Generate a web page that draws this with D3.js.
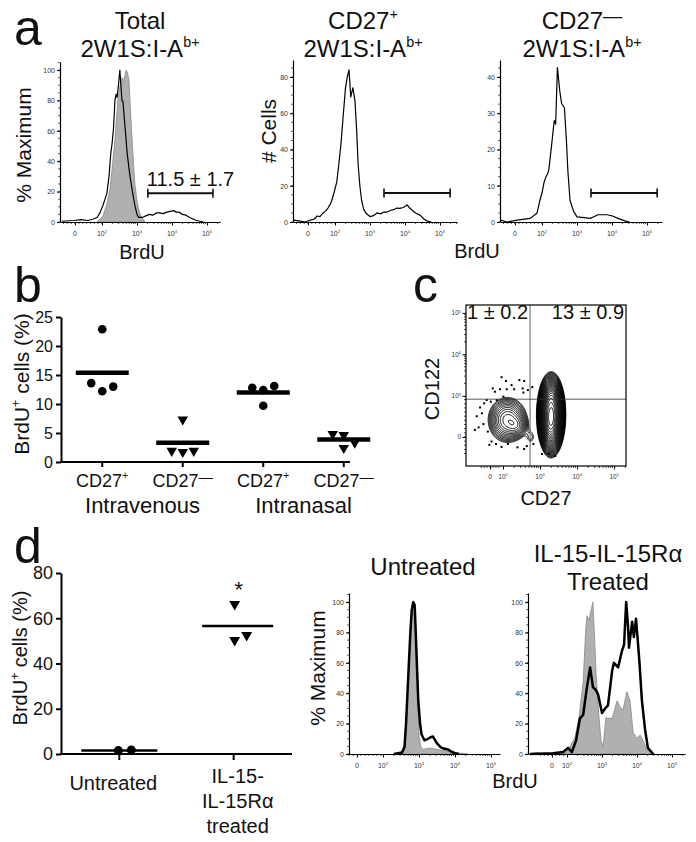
<!DOCTYPE html>
<html><head><meta charset="utf-8">
<script src="https://cdn.jsdelivr.net/npm/d3@7"></script>
<style>
body{margin:0;background:#fff}
svg{display:block}
text{font-family:"Liberation Sans",Arial,Helvetica,sans-serif;fill:#111}
</style>
</head><body>
<svg id="fig" width="696" height="842"></svg>
<script>
// ================= DATA =================
const panelLetters = ["a", "b", "c", "d"];

// ---- panel a ----
const aTitleTop = [["Total", ""], ["CD27", "+"], ["CD27", "—"]];
const aTitleBottom = ["2W1S:I-A", "b+"];
const aYTitles = ["% Maximum", "# Cells", ""];
const aYTicks = [[0, 20, 40, 60, 80, 100], [0, 20, 40, 60, 80], [0, 10, 20, 30, 40]];
const aYMax = [105.3, 89.4, 44.7];
const histTickLabels = [["0", ""], ["10", "2"], ["10", "3"], ["10", "4"], ["10", "5"]];
const aGateText = "11.5 ± 1.7";
const aGateFrom = [3.31, 3.4, 3.4];
const aGateTo = [5.17, 5.29, 5.29];
const aGateLevel = [19, 16, 8];
// display coordinate: 2 = 10^2, 3 = 10^3 ... (biexponential axis), value = % max or # cells
const aTotalControl = [[1.86,0],[2.03,4],[2.14,12],[2.23,22],[2.3,38],[2.37,54],[2.42,70],[2.46,82],[2.52,90],[2.57,95],[2.62,93],[2.69,100],[2.73,98],[2.77,93],[2.81,75],[2.86,54],[2.9,38],[2.94,25],[3.0,14],[3.05,8],[3.11,4],[3.23,0]];
const aTotalBrdU = [[0.85,0.5],[1.2,1],[1.4,1.5],[1.6,1],[1.75,2],[1.86,3],[1.94,6],[2.03,11],[2.1,16],[2.14,19],[2.2,30],[2.25,45],[2.29,52],[2.33,62],[2.37,80],[2.4,84],[2.43,82],[2.47,90],[2.51,100],[2.54,90],[2.57,80],[2.6,79],[2.65,65],[2.72,45],[2.8,30],[2.87,20],[2.93,12],[3.0,5],[3.05,3],[3.15,3],[3.25,4],[3.35,5],[3.45,4.5],[3.55,6],[3.65,6],[3.75,5.5],[3.85,6.5],[3.95,7],[4.05,7.5],[4.12,6.5],[4.2,6.5],[4.3,5],[4.4,4.5],[4.5,3],[4.6,2],[4.7,1],[4.8,0.5],[4.9,0]];
const aCD27posBrdU = [[0.82,1],[1.0,0.5],[1.15,0],[1.29,1],[1.4,1.5],[1.49,3.3],[1.57,3],[1.66,5],[1.73,6],[1.8,7.7],[1.87,10],[1.91,12],[1.97,16],[2.05,22],[2.11,32],[2.17,43],[2.24,60],[2.3,74],[2.35,80],[2.4,84],[2.45,69],[2.51,74],[2.57,67],[2.62,50],[2.66,32],[2.71,20],[2.76,12],[2.82,7],[2.9,4.5],[3.0,3],[3.1,3.5],[3.2,5],[3.3,4.5],[3.4,5.5],[3.49,5.5],[3.6,6.5],[3.7,7],[3.77,7.7],[3.85,7.5],[3.95,8],[4.06,9.4],[4.12,8],[4.2,6.6],[4.3,5],[4.43,3.8],[4.55,1.5],[4.63,0.5],[4.75,0]];
const aCD27negBrdU = [[0.82,0.5],[1.0,0],[1.29,0.5],[1.5,0.8],[1.66,1],[1.8,2],[1.86,2.5],[1.94,6],[2.0,8],[2.06,11],[2.11,12.4],[2.17,13.5],[2.2,14.8],[2.28,21.7],[2.35,28],[2.39,27],[2.44,42.6],[2.51,36],[2.56,32.7],[2.64,31.6],[2.7,22],[2.74,14],[2.8,6],[2.9,3],[3.0,1.4],[3.2,1.2],[3.37,1],[3.5,1.5],[3.6,2],[3.75,2],[3.86,2],[3.95,1.8],[4.03,1.6],[4.17,1],[4.37,0.3],[4.5,0]];

// ---- panel b ----
const bCategories = [["CD27", "+"], ["CD27", "—"], ["CD27", "+"], ["CD27", "—"]];
const bRoutes = ["Intravenous", "Intranasal"];
const bValues = [[22.9, 13.6, 12.2, 13.0], [7.5, 2.1, 1.9, 2.1], [12.8, 12.4, 13.1, 9.7], [5.0, 4.8, 2.6, 3.5]];
const bMeans = [15.4, 3.3, 12.0, 3.9];
const bYTicks = [0, 5, 10, 15, 20, 25];

// ---- panel c ----
const cQuadText = ["1 ± 0.2", "13 ± 0.9"];
const cXTickPos = [1.65, 2, 3, 4, 5];
const cXTickLabels = [["0", ""], ["10", "2"], ["10", "3"], ["10", "4"], ["10", "5"]];
const cYTickPos = [2.01, 3, 4, 5];
const cYTickLabels = [["0", ""], ["10", "3"], ["10", "4"], ["10", "5"]];
const cGate = [2.73, 2.92];
// density clusters: [cx, cy, sx, sy, weight] in display coordinates
const cClusters = [[3.30, 2.55, 0.13, 0.34, 1.0], [3.28, 2.2, 0.09, 0.22, 0.2], [3.3, 3.0, 0.08, 0.15, 0.15], [2.12, 2.42, 0.26, 0.27, 0.075], [2.38, 2.28, 0.15, 0.14, 0.03], [2.75, 2.0, 0.09, 0.13, 0.012]];
const cOutliers = [[1.96,3.45],[2.08,3.36],[1.72,3.18],[1.78,3.10],[1.92,3.16],[2.10,3.16],[2.23,3.26],[2.44,3.38],[2.57,3.36],[2.53,3.18],[2.55,3.08],[2.79,3.21],[1.56,2.90],[1.67,2.86],[1.38,2.72],[1.29,2.51],[1.43,2.58],[1.34,2.24],[1.47,2.32],[1.59,2.14],[1.69,1.90],[1.81,1.84],[1.63,1.82],[1.96,1.77],[2.13,1.84],[2.39,1.76],[2.57,1.72],[2.64,1.79],[2.82,1.84],[3.05,1.60],[3.23,1.60],[3.41,1.55],[1.83,2.90],[2.01,2.98],[2.30,3.16],[2.67,3.14],[1.49,2.82],[1.24,2.18]];

// ---- panel d ----
const dCategories = [["Untreated"], ["IL-15-", "IL-15Rα", "treated"]];
const dUntreated = [1.5, 1.8];
const dTreated = [66.7, 50.8, 53.0];
const dMeans = [1.6, 56.6];
const dYTicks = [0, 20, 40, 60, 80];
const dHistTitles = [["Untreated"], ["IL-15-IL-15Rα", "Treated"]];
const dHistYTicks = [0, 20, 40, 60, 80, 100];
const dUntreatedControl = [[2.5,0],[2.6,3],[2.64,18],[2.68,38],[2.72,58],[2.76,80],[2.8,95],[2.84,100],[2.88,97],[2.91,78],[2.94,55],[2.97,30],[3.0,12],[3.05,5],[3.11,3],[3.2,3.5],[3.3,4],[3.4,3.5],[3.5,3],[3.64,2.5],[3.8,2],[4.0,1],[4.2,0.5],[4.35,0]];
const dUntreatedBrdU = [[2.3,0],[2.42,0.5],[2.53,1],[2.6,5],[2.64,20],[2.68,40],[2.72,60],[2.76,80],[2.8,95],[2.84,100],[2.88,98],[2.91,80],[2.94,60],[2.98,35],[3.03,20],[3.07,13],[3.15,9],[3.25,10],[3.32,11],[3.39,11.5],[3.45,9],[3.5,7],[3.58,5],[3.64,4],[3.72,3.5],[3.81,3],[3.9,1.5],[4.0,0.5],[4.1,0]];
const dTreatedControl = [[0.94,0],[1.14,1],[1.3,0],[2.0,1.3],[2.23,11],[2.34,24],[2.46,47],[2.53,80],[2.57,91],[2.63,88],[2.69,95],[2.74,100],[2.8,70],[2.83,53],[2.89,31],[2.97,9],[3.03,5],[3.11,24],[3.17,23.5],[3.29,23.5],[3.43,35],[3.51,31],[3.6,29],[3.71,41],[3.8,35],[3.89,14],[4.0,10.5],[4.09,12.5],[4.17,9],[4.29,2.6],[4.51,0]];
const dTreatedBrdU = [[0.94,0],[1.6,0.5],[1.89,1.3],[2.03,4],[2.14,1.3],[2.26,9],[2.37,23.5],[2.46,25.7],[2.57,44],[2.66,57],[2.74,44],[2.83,42],[2.89,39],[3.0,27],[3.09,30],[3.17,32],[3.29,55],[3.34,60],[3.46,57],[3.57,68],[3.63,72],[3.69,100],[3.74,85],[3.77,70],[3.86,87],[3.91,77],[3.97,89],[4.02,75],[4.07,60],[4.14,35],[4.23,16],[4.31,4],[4.46,0]];

// ================= DRAWING =================
const svg = d3.select("#fig");
const FONT = "'Liberation Sans', Arial, Helvetica, sans-serif";

function rich(t, parts, fs) {
  let shift = 0;
  parts.forEach(([s, k]) => {
    if (!s) return;
    const ts = t.append("tspan").text(s);
    let target = 0, size = null;
    if (k === "sup") { target = -0.42 * fs; size = 0.6 * fs; }
    else if (k === "dash") { target = -0.3 * fs; size = 0.8 * fs; }
    const dy = target - shift; shift = target;
    if (dy) ts.attr("dy", dy);
    if (size) ts.attr("font-size", size);
  });
}
function txt(x, y, fs, anchor) {
  return svg.append("text").attr("x", x).attr("y", y).attr("font-size", fs)
    .attr("text-anchor", anchor || "middle");
}
function vtxt(x, y, fs) {
  return svg.append("text").attr("transform", `translate(${x},${y}) rotate(-90)`)
    .attr("font-size", fs).attr("text-anchor", "middle");
}
function markParts(base, mark) {
  return [[base, "n"], [mark, mark === "—" ? "dash" : "sup"]];
}

// panel letters
const letterPos = [[14, 45], [14, 302], [413, 302], [14, 563]];
panelLetters.forEach((l, i) => txt(letterPos[i][0], letterPos[i][1], 50, "start").text(l));

// ---------- histogram helper ----------
function histPanel(o) {
  const g = svg.append("g");
  const x = d3.scaleLinear().domain(o.xDomain).range([o.left, o.right]);
  const y = d3.scaleLinear().domain([0, o.yMax]).range([o.bottom, o.top]);
  (o.fills || []).forEach(s => g.append("path").datum(s)
    .attr("d", d3.area().x(d => x(d[0])).y0(y(0)).y1(d => y(d[1])))
    .attr("fill", "#b0b0b0").attr("stroke", "#888").attr("stroke-width", 0.8));
  (o.lines || []).forEach(s => g.append("path").datum(s)
    .attr("d", d3.line().x(d => x(d[0])).y(d => y(d[1])))
    .attr("fill", "none").attr("stroke", "#000").attr("stroke-width", o.lw)
    .attr("stroke-linejoin", "round"));
  const ya = g.append("g").attr("transform", `translate(${o.left},0)`)
    .call(d3.axisLeft(y).tickValues(o.yTicks).tickSize(3).tickSizeOuter(0).tickPadding(2));
  ya.attr("font-size", 7).attr("font-family", FONT);
  ya.selectAll("text").style("fill", "#333");
  ya.select(".domain").attr("stroke-width", 1.2);
  const step = o.yTicks[1] - o.yTicks[0];
  const yMinor = d3.range(0, o.yMax, step / 4);
  g.selectAll(null).data(yMinor).join("line")
    .attr("x1", o.left - 1.8).attr("x2", o.left).attr("y1", d => y(d)).attr("y2", d => y(d))
    .attr("stroke", "#000").attr("stroke-width", 0.7);
  const xa = g.append("g").attr("transform", `translate(0,${o.bottom})`)
    .call(d3.axisBottom(x).tickValues(o.xTicks).tickSize(3.5).tickSizeOuter(0).tickFormat(""));
  xa.select(".domain").attr("stroke-width", 1.2);
  const xMinor = [];
  for (let k = -3; o.zero + k * 0.11 < 2; k++) { const v = o.zero + k * 0.11; if (v > o.xDomain[0]) xMinor.push(v); }
  for (let dec = 2; dec <= 5; dec++) for (let m = 2; m <= 9; m++) {
    const v = dec + Math.log10(m); if (v < o.xDomain[1]) xMinor.push(v);
  }
  g.selectAll(null).data(xMinor).join("line")
    .attr("x1", d => x(d)).attr("x2", d => x(d)).attr("y1", o.bottom).attr("y2", o.bottom + 2)
    .attr("stroke", "#000").attr("stroke-width", 0.7);
  o.xTicks.forEach((p, i) => {
    const t = g.append("text").attr("x", x(p)).attr("y", o.bottom + 14).attr("font-size", 7)
      .attr("text-anchor", "middle").style("fill", "#333");
    rich(t, [[histTickLabels[i][0], "n"], [histTickLabels[i][1], "sup"]], 7);
  });
  return { x, y, g };
}

// ---------- panel a ----------
const aLeft = [60, 293, 500], aRight = [220, 457, 662];
const aSeriesLines = [[aTotalBrdU], [aCD27posBrdU], [aCD27negBrdU]];
const aSeriesFills = [[aTotalControl], [], []];
const aTitleX = [140, 363, 582];
aLeft.forEach((L, i) => {
  const xDom = [0.8, 0.8 + (aRight[i] - L) / 35];
  const h = histPanel({
    left: L, right: aRight[i], bottom: 222, top: i === 0 ? 62 : 60, xDomain: xDom,
    yMax: aYMax[i], yTicks: aYTicks[i], xTicks: [1.229, 2, 3, 4, 5], zero: 1.229,
    fills: aSeriesFills[i], lines: aSeriesLines[i], lw: 1.2
  });
  const gy = h.y(aGateLevel[i]), gx1 = h.x(aGateFrom[i]), gx2 = h.x(aGateTo[i]);
  h.g.append("line").attr("x1", gx1).attr("x2", gx2).attr("y1", gy).attr("y2", gy).attr("stroke", "#111").attr("stroke-width", 2);
  [gx1, gx2].forEach(gx => h.g.append("line").attr("x1", gx).attr("x2", gx).attr("y1", gy - 4.5).attr("y2", gy + 4.5).attr("stroke", "#111").attr("stroke-width", 1.6));
  rich(txt(aTitleX[i], 29, 24), markParts(aTitleTop[i][0], aTitleTop[i][1]), 24);
  rich(txt(aTitleX[i], 57, 24), [[aTitleBottom[0], "n"], [aTitleBottom[1], "sup"]], 24);
  if (i === 0) txt(gx1 - 1, 186, 20, "start").text(aGateText);
});
vtxt(31, 145, 21).text(aYTitles[0]);
vtxt(276, 131, 21).text(aYTitles[1]);
txt(142, 259, 20).text("BrdU");
txt(477, 258, 20).text("BrdU");

// ---------- panel b ----------
{
  const x = d3.scaleBand().domain(d3.range(bCategories.length)).range([62, 384]);
  const y = d3.scaleLinear().domain([0, 25]).range([462, 317]);
  const ya = svg.append("g").attr("transform", "translate(61,0)")
    .call(d3.axisLeft(y).tickValues(bYTicks).tickSize(5).tickSizeOuter(0).tickPadding(3));
  ya.attr("font-size", 16).attr("font-family", FONT);
  ya.selectAll("line,path").attr("stroke-width", 2);
  svg.append("line").attr("x1", 60).attr("x2", 350).attr("y1", 462).attr("y2", 462).attr("stroke", "#000").attr("stroke-width", 2);
  const cx = i => x(i) + x.bandwidth() / 2;
  bCategories.forEach((c, i) => {
    svg.append("line").attr("x1", cx(i)).attr("x2", cx(i)).attr("y1", 462).attr("y2", 467).attr("stroke", "#000").attr("stroke-width", 2);
    rich(txt(cx(i), 487, 18), markParts(c[0], c[1]), 18);
  });
  bRoutes.forEach((r, k) => txt((cx(2 * k) + cx(2 * k + 1)) / 2, 513, 22).text(r));
  const jitter = [[0, -11, 0, 11], [0, -11, 0, 11], [-11, 0, 11, 0], [-11, 0, 0, 11]];
  const tri = d3.symbol(d3.symbolTriangle, 48)();
  bValues.forEach((vals, i) => {
    vals.forEach((v, j) => {
      if (i % 2 === 0) svg.append("circle").attr("cx", cx(i) + jitter[i][j]).attr("cy", y(v)).attr("r", 4.3).attr("fill", "#000");
      else svg.append("path").attr("d", tri).attr("transform", `translate(${cx(i) + jitter[i][j]},${y(v) + 1}) rotate(180)`).attr("fill", "#000");
    });
    svg.append("line").attr("x1", cx(i) - 26.5).attr("x2", cx(i) + 26.5).attr("y1", y(bMeans[i])).attr("y2", y(bMeans[i]))
      .attr("stroke", "#000").attr("stroke-width", 4.5);
  });
  rich(vtxt(29, 384, 21), [["BrdU", "n"], ["+", "sup"], [" cells (%)", "n"]], 21);
}

// ---------- panel c ----------
{
  const L = 466, R = 626, T = 305, B = 466;
  const x = d3.scaleLinear().domain([1.0, 5.32]).range([L, R]);
  const y = d3.scaleLinear().domain([1.31, 5.19]).range([B, T]);
  const nx = 240, ny = 240;
  const dx = (5.32 - 1.0) / nx, dy = (5.19 - 1.31) / ny;
  const vals = new Float64Array(nx * ny);
  for (let j = 0; j < ny; j++) for (let i = 0; i < nx; i++) {
    const X = 1.0 + (i + 0.5) * dx, Y = 1.31 + (j + 0.5) * dy;
    let s = 0;
    cClusters.forEach(([cx, cy, sx, sy, w]) => {
      s += w * Math.exp(-0.5 * (((X - cx) / sx) ** 2 + ((Y - cy) / sy) ** 2));
    });
    vals[j * nx + i] = s;
  }
  const thresholds = d3.range(28).map(k => 0.01 * Math.pow(1.19, k));
  const contours = d3.contours().size([nx, ny]).thresholds(thresholds)(vals);
  const proj = d3.geoTransform({
    point(px, py) { this.stream.point(x(1.0 + px * dx), y(1.31 + py * dy)); }
  });
  const path = d3.geoPath(proj);
  svg.append("g").selectAll("path").data(contours).join("path")
    .attr("d", path).attr("fill", "none").attr("stroke", "#000").attr("stroke-width", 0.95);
  svg.append("g").selectAll("rect").data(cOutliers).join("rect")
    .attr("x", d => x(d[0]) - 1).attr("y", d => y(d[1]) - 1).attr("width", 2).attr("height", 2).attr("fill", "#000");
  svg.append("line").attr("x1", x(cGate[0])).attr("x2", x(cGate[0])).attr("y1", T).attr("y2", B).attr("stroke", "#333").attr("stroke-width", 0.8);
  svg.append("line").attr("x1", L).attr("x2", R).attr("y1", y(cGate[1])).attr("y2", y(cGate[1])).attr("stroke", "#333").attr("stroke-width", 0.8);
  svg.append("rect").attr("x", L).attr("y", T).attr("width", R - L).attr("height", B - T).attr("fill", "none").attr("stroke", "#000").attr("stroke-width", 1.2);
  const xa = svg.append("g").attr("transform", `translate(0,${B})`).call(d3.axisBottom(x).tickValues(cXTickPos).tickSize(3.5).tickSizeOuter(0).tickFormat(""));
  xa.select(".domain").remove();
  const ya = svg.append("g").attr("transform", `translate(${L},0)`).call(d3.axisLeft(y).tickValues(cYTickPos).tickSize(3.5).tickSizeOuter(0).tickFormat(""));
  ya.select(".domain").remove();
  const xm = [], ym = [];
  for (let k = -3; 1.65 + k * 0.08 < 1.97; k++) xm.push(1.65 + k * 0.08);
  for (let dec = 2; dec <= 5; dec++) for (let m = 2; m <= 9; m++) { const v = dec + Math.log10(m); if (v < 5.32) xm.push(v); if (dec >= 3 && v < 5.19) ym.push(v); }
  for (let k = -4; 2.01 + k * 0.1 < 3; k++) ym.push(2.01 + k * 0.1);
  svg.selectAll(null).data(xm.filter(v => v > 1.0)).join("line").attr("x1", d => x(d)).attr("x2", d => x(d)).attr("y1", B).attr("y2", B + 2).attr("stroke", "#000").attr("stroke-width", 0.7);
  svg.selectAll(null).data(ym.filter(v => v > 1.31)).join("line").attr("y1", d => y(d)).attr("y2", d => y(d)).attr("x1", L - 2).attr("x2", L).attr("stroke", "#000").attr("stroke-width", 0.7);
  cXTickPos.forEach((p, i) => rich(txt(x(p), B + 13, 6.5).style("fill", "#333"), [[cXTickLabels[i][0], "n"], [cXTickLabels[i][1], "sup"]], 6.5));
  cYTickPos.forEach((p, i) => rich(txt(L - 5, y(p) + 2.5, 6.5, "end").style("fill", "#333"), [[cYTickLabels[i][0], "n"], [cYTickLabels[i][1], "sup"]], 6.5));
  txt(L + 1, 319, 20, "start").text(cQuadText[0]);
  txt(R - 2, 319, 20, "end").text(cQuadText[1]);
  vtxt(439, 389, 20).text("CD122");
  txt(546, 505, 20).text("CD27");
}

// ---------- panel d (dot plot) ----------
{
  const x = d3.scalePoint().domain(d3.range(dCategories.length)).range([61, 292]).padding(0.51);
  const y = d3.scaleLinear().domain([0, 80]).range([754, 573]);
  const ya = svg.append("g").attr("transform", "translate(61,0)")
    .call(d3.axisLeft(y).tickValues(dYTicks).tickSize(5).tickSizeOuter(0).tickPadding(3));
  ya.attr("font-size", 18).attr("font-family", FONT);
  ya.selectAll("line,path").attr("stroke-width", 2);
  svg.append("line").attr("x1", 60).attr("x2", 292).attr("y1", 754).attr("y2", 754).attr("stroke", "#000").attr("stroke-width", 2);
  dCategories.forEach((c, i) => {
    svg.append("line").attr("x1", x(i)).attr("x2", x(i)).attr("y1", 754).attr("y2", 760).attr("stroke", "#000").attr("stroke-width", 2);
    c.forEach((line, k) => txt(x(i) + (i === 1 ? 4 : -6), (i === 1 ? 783 : 790) + k * 25, 20).text(line));
  });
  const ju = [-1, 12], jt = [1, 1, 13];
  dUntreated.forEach((v, j) => svg.append("circle").attr("cx", x(0) + ju[j]).attr("cy", y(v)).attr("r", 4.5).attr("fill", "#000"));
  const tri = d3.symbol(d3.symbolTriangle, 52)();
  dTreated.forEach((v, j) => svg.append("path").attr("d", tri).attr("transform", `translate(${x(1) + jt[j]},${y(v) + 1}) rotate(180)`).attr("fill", "#000"));
  const mw = [38, 35.5], mo = [0, 4];
  dMeans.forEach((m, i) => svg.append("line").attr("x1", x(i) + mo[i] - mw[i]).attr("x2", x(i) + mo[i] + mw[i]).attr("y1", y(m)).attr("y2", y(m)).attr("stroke", "#000").attr("stroke-width", 2.5));
  txt(x(1) + 5, 597, 22).text("*");
  rich(vtxt(27, 658, 20), [["BrdU", "n"], ["+", "sup"], [" cells (%)", "n"]], 20);
}

// ---------- panel d (histograms) ----------
{
  const cfgs = [
    { left: 349, right: 500, xDomain: [1.056, 5.25], zero: 1.28, fills: [dUntreatedControl], lines: [dUntreatedBrdU] },
    { left: 528, right: 685, xDomain: [0.886, 5.37], zero: 1.57, fills: [dTreatedControl], lines: [dTreatedBrdU] }
  ];
  cfgs.forEach(c => histPanel(Object.assign(c, { bottom: 754, top: 593, yMax: 106, yTicks: dHistYTicks, xTicks: [c.zero, 2, 3, 4, 5], lw: 2.5 })));
  txt(423, 575, 24).text(dHistTitles[0][0]);
  txt(608, 562, 24).text(dHistTitles[1][0]);
  txt(608, 590, 24).text(dHistTitles[1][1]);
  vtxt(325, 668, 21).text("% Maximum");
  txt(515, 788, 20).text("BrdU");
}
</script>
</body></html>
